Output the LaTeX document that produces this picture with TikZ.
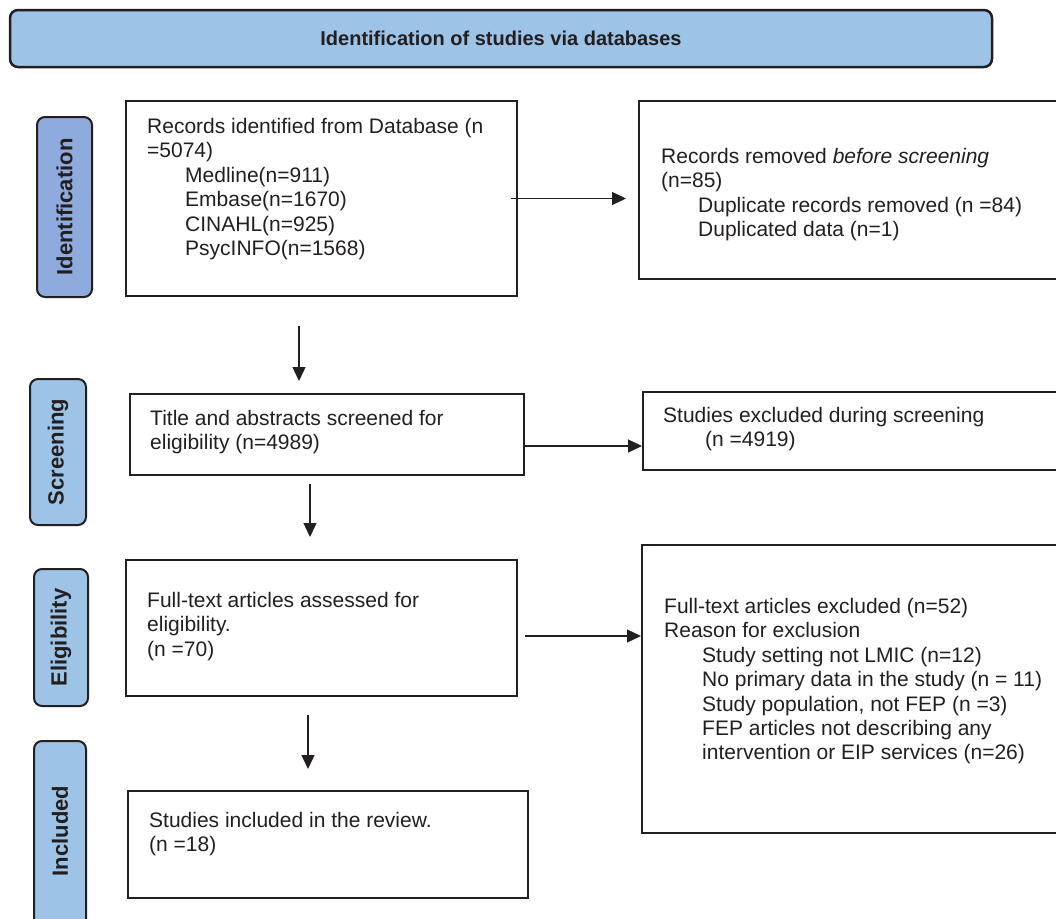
\documentclass[tikz,border=0pt]{standalone}
\usepackage{fontspec}
\setmainfont{Liberation Sans}
\usetikzlibrary{arrows.meta,calc}
\definecolor{hdrblue}{HTML}{9DC3E6}
\definecolor{idblue}{HTML}{8FAADC}
\definecolor{edge}{HTML}{231F20}
\begin{document}
\begin{tikzpicture}[x=1pt,y=-1pt,
  box/.style={draw=edge,line width=2pt,inner sep=0pt,fill=white},
  side/.style={draw=edge,line width=2pt,rounded corners=8pt,fill=hdrblue,inner sep=0pt,rotate=90,
    font=\fontsize{22}{22}\selectfont\bfseries,text=edge},
  txt/.style={anchor=north west,align=left,inner sep=0pt,font=\fontsize{21}{24.4}\selectfont,text=edge},
  arr/.style={draw=edge,line width=1.3pt,-{Triangle[length=14pt,width=13pt]}}]
\useasboundingbox (0,0) rectangle (1056,918);
\clip (0,0) rectangle (1056,918);
% header
\node[draw=edge,line width=2.5pt,rounded corners=8pt,fill=hdrblue,inner sep=0pt,
  minimum width=982pt,minimum height=57pt,font=\fontsize{20}{20}\selectfont\bfseries,text=edge]
  (hdr) at (501,38.5) {Identification of studies via databases};
% side labels
\node[side,fill=idblue,minimum width=180pt,minimum height=55pt] (sId) at (64.5,207) {Identification};
\node[side,minimum width=146pt,minimum height=56pt] (sSc) at (58,452) {Screening};
\node[side,minimum width=137pt,minimum height=54pt] (sEl) at (61,637.5) {Eligibility};
\draw[draw=edge,line width=2pt,rounded corners=8pt,fill=hdrblue] (34,950) -- (34,741) -- (86,741) -- (86,950);
\node[rotate=90,font=\fontsize{22}{22}\selectfont\bfseries,text=edge] (sIn) at (60,831) {Included};
% boxes
\node[box,minimum width=391pt,minimum height=195pt] (A) at (321.5,198.5) {};
\node[box,minimum width=423pt,minimum height=178pt] (B) at (850.5,190) {};
\node[box,minimum width=394pt,minimum height=81pt] (C) at (327,434.5) {};
\node[box,minimum width=419pt,minimum height=78pt] (D) at (852.5,431) {};
\node[box,minimum width=391pt,minimum height=136pt] (E) at (321.5,628) {};
\node[box,minimum width=420pt,minimum height=288pt] (F) at (852,689) {};
\node[box,minimum width=400pt,minimum height=107pt] (G) at (328,844.5) {};
% texts
\node[txt] (tA) at (147,118) {Records identified from Database (n\\=5074)\\
  \hspace*{38pt}Medline(n=911)\\\hspace*{38pt}Embase(n=1670)\\\hspace*{38pt}CINAHL(n=925)\\\hspace*{38pt}PsycINFO(n=1568)};
\node[txt] (tB) at (661,148) {Records removed \textit{before screening}\\(n=85)\\
  \hspace*{37pt}Duplicate records removed (n =84)\\\hspace*{37pt}Duplicated data (n=1)};
\node[txt] (tC) at (150,410) {Title and abstracts screened for\\eligibility (n=4989)};
\node[txt] (tD) at (663,407) {Studies excluded during screening\\\hspace*{42pt}(n =4919)};
\node[txt] (tE) at (147,592) {Full-text articles assessed for\\eligibility.\\(n =70)};
\node[txt] (tF) at (664,598) {Full-text articles excluded (n=52)\\Reason for exclusion\\
  \hspace*{38pt}Study setting not LMIC (n=12)\\\hspace*{38pt}No primary data in the study (n = 11)\\
  \hspace*{38pt}Study population, not FEP (n =3)\\\hspace*{38pt}FEP articles not describing any\\
  \hspace*{38pt}intervention or EIP services (n=26)};
\node[txt] (tG) at (149,812) {Studies included in the review.\\(n =18)};
% connectors
\coordinate (eF) at ($(E.east)+(7,8)$);
\draw[arr] ([xshift=-7pt]A.east) -- ([xshift=-12pt]A.east -| B.west);
\draw[arr] ($(A.south)+(-22.5,29)$) -- ($(C.north)+(-28,-12)$);
\draw[arr] ([yshift=-11.5pt]C.east) -- ([yshift=-11.5pt]C.east -| D.west);
\draw[arr] ($(C.south)+(-17,8)$) -- ($(E.north)+(-11.5,-22)$);
\draw[arr] (eF) -- (eF -| F.west);
\draw[arr] ($(E.south)+(-13.5,18)$) -- ($(G.north)+(-20,-21)$);
\end{tikzpicture}
\end{document}
